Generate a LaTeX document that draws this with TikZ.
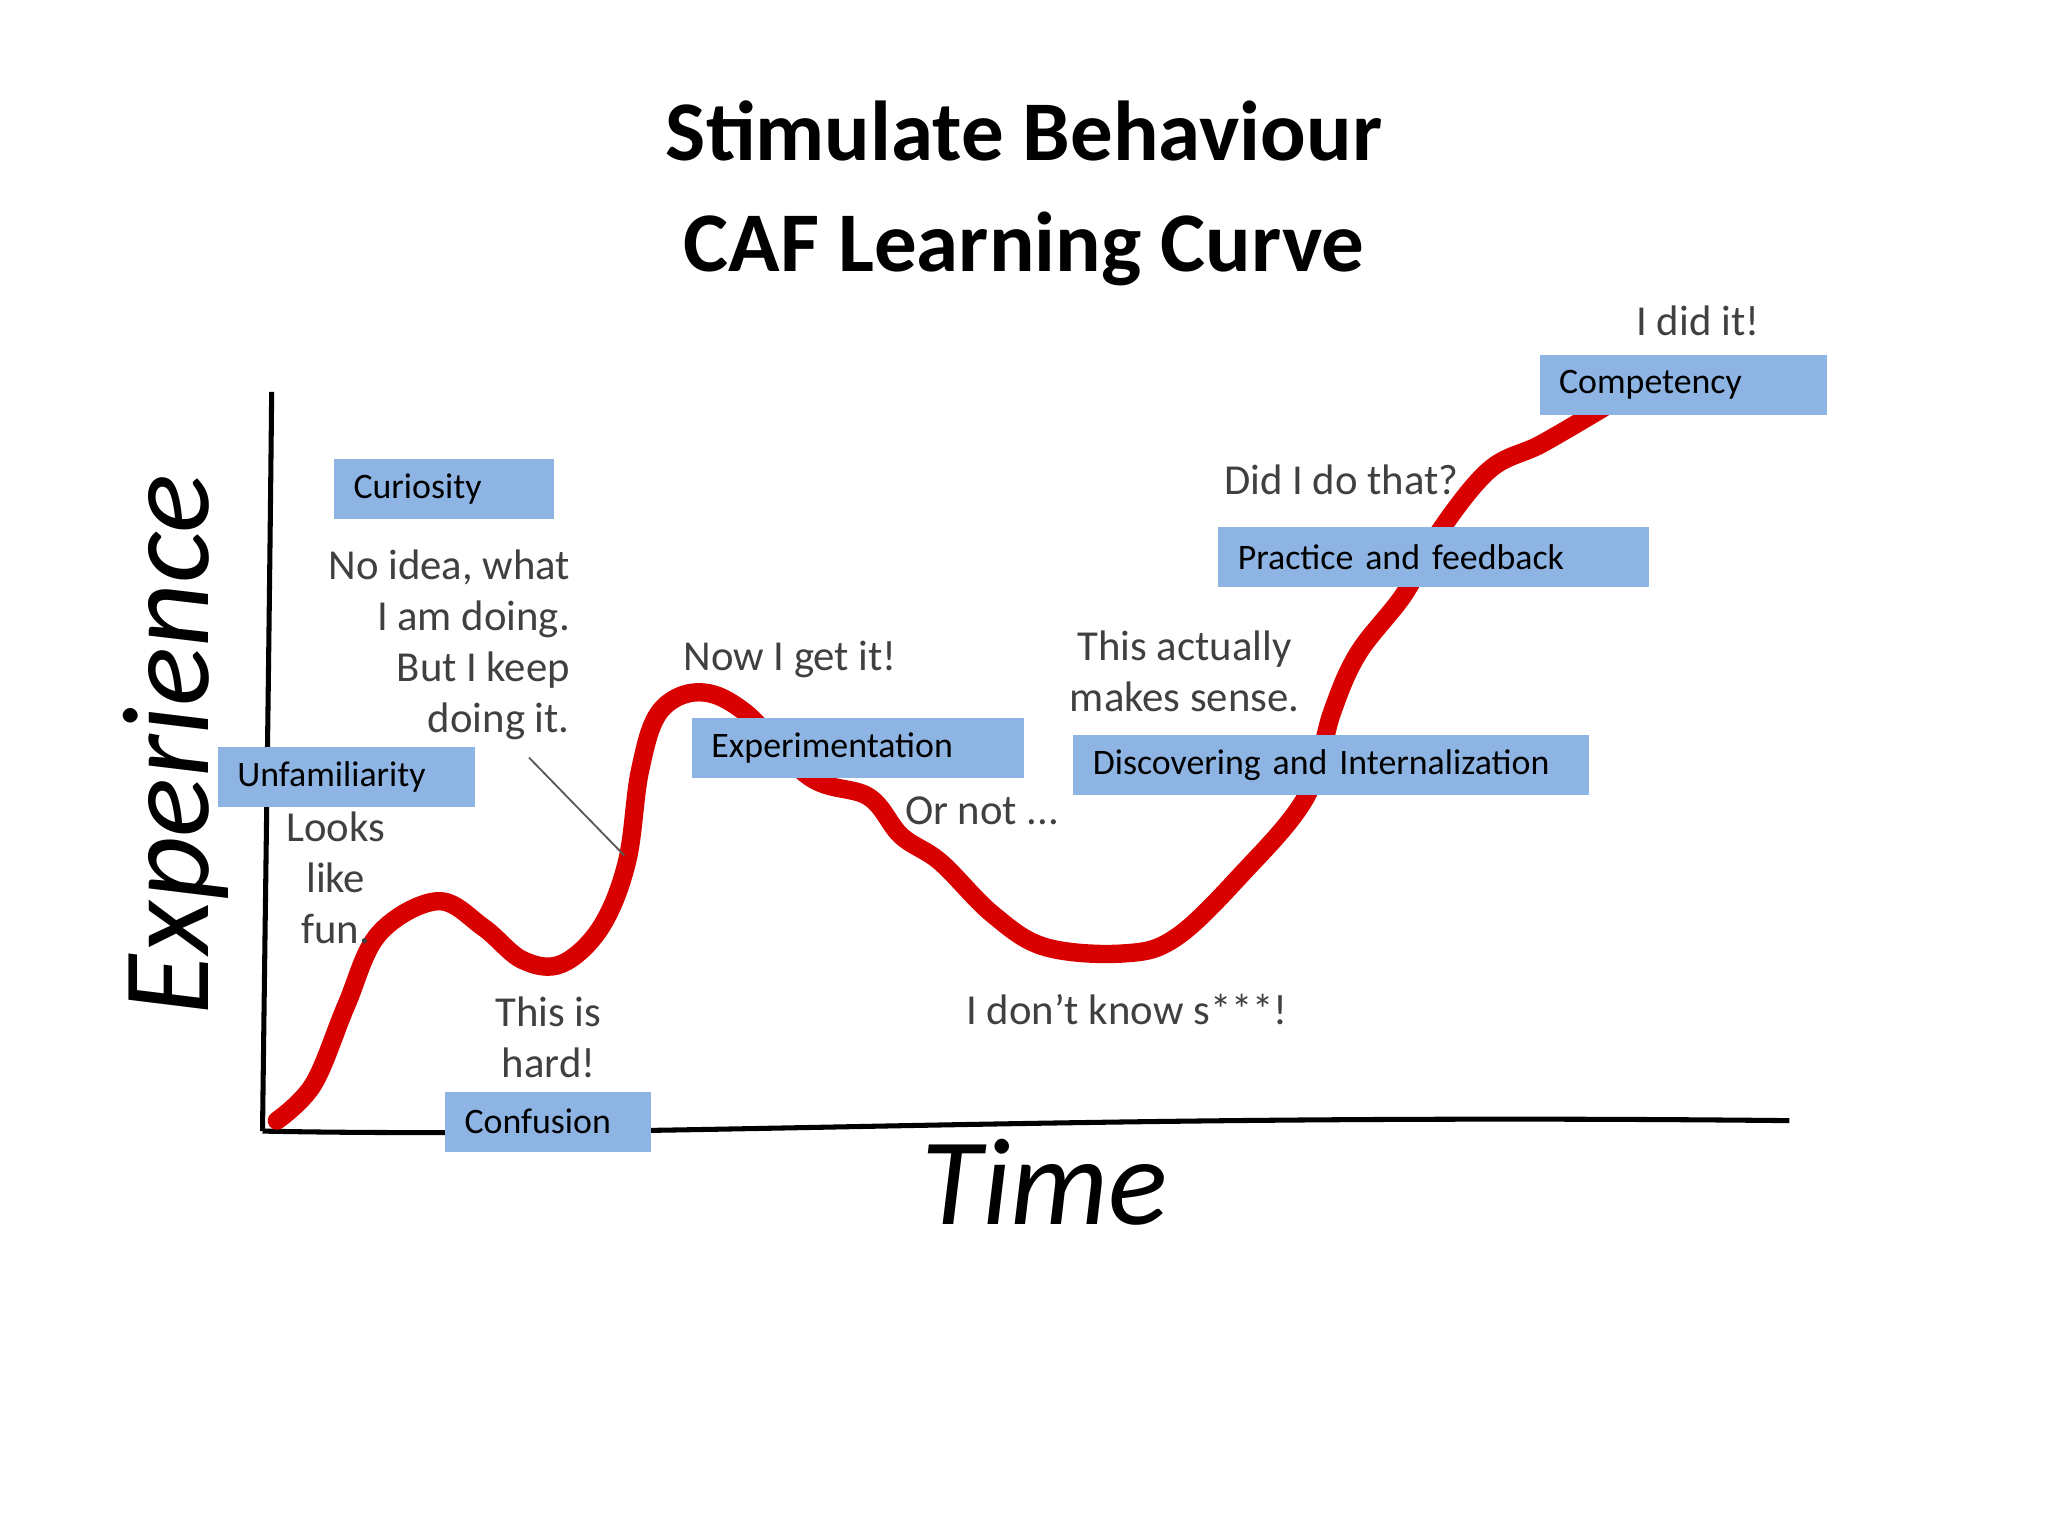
\documentclass[tikz,border=0pt]{standalone}
\usepackage{fontspec}
\setmainfont{Carlito}
\begin{document}
\begin{tikzpicture}[x=0.01cm,y=-0.01cm,
  lbl/.style={fill={rgb,255:red,142;green,180;blue,227},anchor=north west,align=left,inner ysep=0pt,inner xsep=0.15cm,minimum height=0.46cm,font=\fontsize{7.8pt}{9.5pt}\selectfont},
  hand/.style={text={rgb,255:red,64;green,64;blue,64},font=\fontsize{9.3pt}{11.1pt}\selectfont,inner sep=0pt},
  axis/.style={line width=1.1pt,black}]
\useasboundingbox (0,0) rectangle (1568,1176);
\node[font=\bfseries\fontsize{18.5pt}{24pt}\selectfont,align=center] (title) at (784,148) {Stimulate Behaviour\\CAF Learning Curve};
% axes
\coordinate (o) at (201,866);
\coordinate (ytop) at (208,300);
\coordinate (xend) at (1370,858);
\draw[axis] (ytop) .. controls (206,500) and (203,700) .. (o);
\draw[axis] (o) .. controls (500,872) and (800,852) .. (xend);
\node[rotate=90,font=\itshape\fontsize{27pt}{30pt}\selectfont] (ylab) at (135,570) {Experience};
\node[font=\itshape\fontsize{27pt}{30pt}\selectfont] (xlab) at (800,905) {Time};
% curve
\draw[red!85!black,line width=4pt,line cap=round,line join=round] plot[smooth,tension=0.6] coordinates {(212,858)(240,830)(265,770)(290,715)(335,690)(370,710)(400,735)(430,738)(460,710)(480,660)(490,590)(505,545)(535,530)(570,545)(620,595)(665,610)(690,640)(720,660)(760,700)(800,725)(860,730)(900,718)(950,670)(1000,610)(1020,545)(1040,500)(1075,455)(1100,410)(1140,360)(1180,340)(1228,312)};
% hand text
\node[hand,align=right,anchor=north east] (noidea) at (437,420) {No idea, what\\I am doing.\\But I keep\\doing it.};
\coordinate (p1) at (405,580);
\coordinate (p2) at (478,655);
\draw[thin,gray!70!black] (p1) -- (p2);
\node[hand,align=center] (looks) at (257,672) {Looks\\like\\fun.};
\node[hand,align=center] (hard) at (420,794) {This is\\hard!};
\node[hand] (now) at (605,505) {Now I get it!};
\node[hand] (ornot) at (752,621) {Or not ...};
\node[hand] (dont) at (863,773) {I don't know s***!};
\node[hand,align=center] (sense) at (907,514) {This actually\\makes sense.};
\node[hand] (did) at (1027,367) {Did I do that?};
\node[hand] (diditt) at (1300,246) {I did it!};
% labels
\node[lbl,text width=1.38cm] (cur) at (255,351) {Curiosity};
\node[lbl,text width=1.67cm] (unf) at (166,571) {Unfamiliarity};
\node[lbl,text width=1.28cm] (conf) at (340,835) {Confusion};
\node[lbl,text width=2.24cm] (exp) at (529,549) {Experimentation};
\node[lbl,text width=3.65cm] (disc) at (821,562) {Discovering and Internalization};
\node[lbl,text width=3.00cm] (prac) at (932,403) {Practice and feedback};
\node[lbl,text width=1.90cm] (comp) at (1178,271) {Competency};
\end{tikzpicture}
\end{document}
